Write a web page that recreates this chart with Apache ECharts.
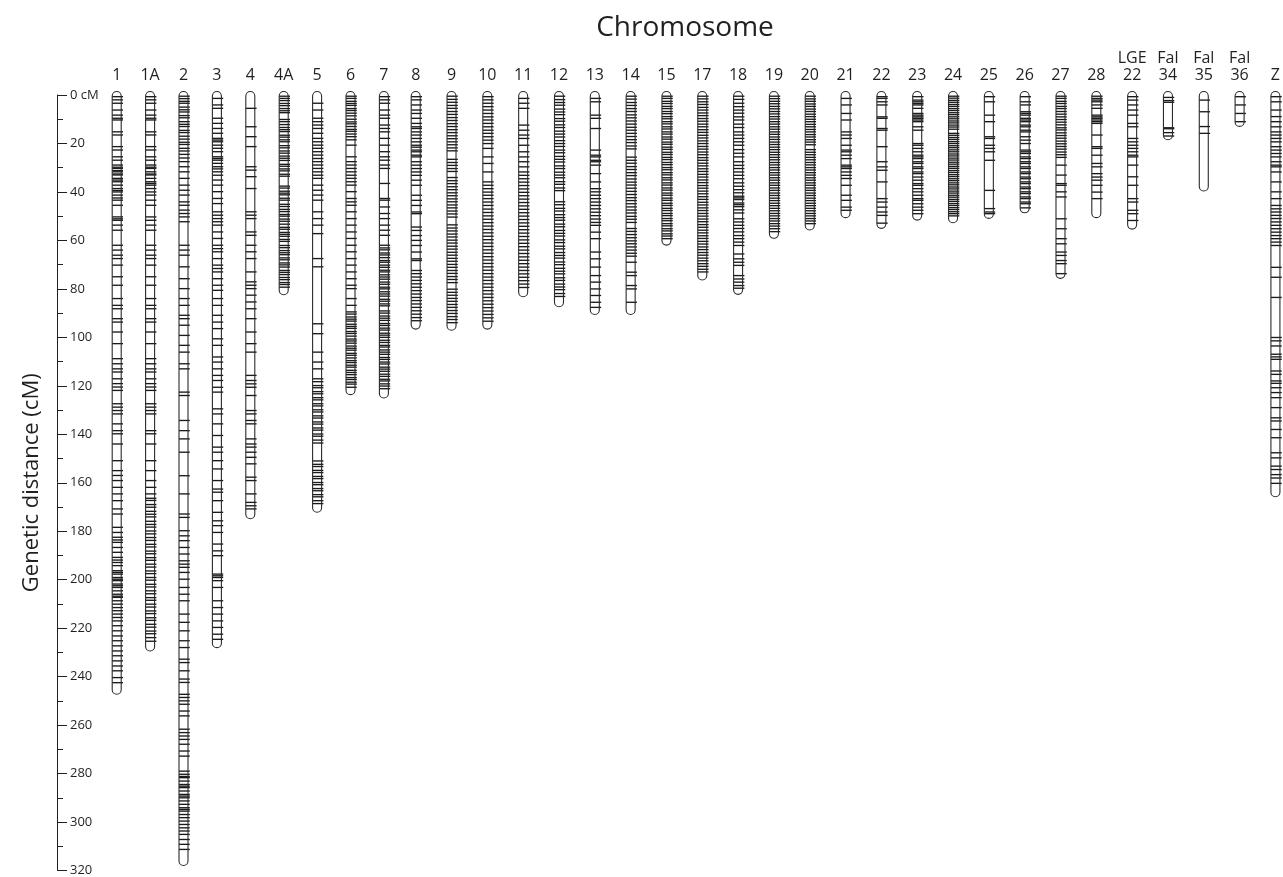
<!DOCTYPE html>
<html><head><meta charset="utf-8">
<script src="https://cdn.jsdelivr.net/npm/echarts@6/dist/echarts.min.js"></script>
<style>html,body{margin:0;padding:0;background:#fff}#chart{width:1283px;height:877px}</style>
</head><body><div id="chart"></div>
<script>
// ---- data ----
const chromosomes = ['1','1A','2','3','4','4A','5','6','7','8','9','10','11','12','13','14','15','17','18','19','20','21','22','23','24','25','26','27','28','LGE\n22','Fal\n34','Fal\n35','Fal\n36','Z'];
const lengths = [245.8,228,316.5,226.6,173.4,81,170.7,122.2,123.6,95,95.5,95,81.7,85.8,89,89,60.4,74.8,80.7,57.6,54.2,49.1,53.5,50.1,51.2,49.4,47.1,74.1,49.1,53.8,17,38.1,11.5,164.1];
const yTickLabels = [0,20,40,60,80,100,120,140,160,180,200,220,240,260,280,300,320];

const m1 = [0.7,2,3.4,6.2,8.3,9.6,10.3,15.2,16.5,21.3,22.7,25.5,26.9,28.9,29.8,30.3,31.2,31.7,32.6,33,34.4,35.1,35.8,37.2,38.6,39.4,40,41.3,42.5,43.4,45.5,50.3,51.1,51.7,53.7,55.8,62,64,66.1,67.5,70.2,75,78.5,84,86.8,88.2,92.3,93.7,97.8,102.6,108.8,110.9,113,114.3,117.1,119.1,120.5,121.9,127.4,128.8,130.2,131.6,135.7,138.5,139.8,144,150.9,155,157,159.1,161.9,164.6,167.4,170.8,172.9,178.4,180.5,182.5,183.6,184.6,186.7,188.7,190.8,191.9,192.9,194.2,196.3,197,197.7,199.1,199.8,200.4,201.8,202.5,203.2,204.6,206,206.8,207.3,208.7,210.1,211.5,212.8,214.2,215.6,217,219,221.1,223.2,225.2,227.3,229.4,231.4,233.5,235.6,237.6,240.4,242.5];
const m1A = [0.7,2,3.4,6.2,8.3,9.6,10.3,15.2,16.5,21.3,22.7,25.5,26.9,28.9,29.8,30.3,31.7,32.6,33,34.4,35.8,36.5,37.2,38.6,40,41.3,43.4,45.5,50.3,51.7,53.7,55.8,62,64,66.1,67.5,70.2,75,78.5,84,86.8,88.2,92.3,93.7,97.8,102.6,108.8,110.9,113,114.3,117.1,119.1,120.5,121.9,127.4,128.8,130.2,131.6,138.5,139.8,144,150.9,155,159.1,161.9,164.6,166.4,167.3,169,170.1,171.8,173,174.1,175.9,177.2,178.3,179.9,181.1,182.6,183.8,185.4,186.5,188.2,189.3,190.9,192,193.6,194.8,196.4,197.5,199.1,200.2,201.9,203,204.6,205.8,207.4,208.5,210.1,211.3,212.9,214,215.7,216.8,218.4,219.6,221.2,222.3,223.9,225.4];
const m2 = [0.5,1.5,2.6,3.4,5,6.1,7,8.5,9.4,11,12.1,13,14.6,15.5,17,18.2,19.5,20.4,22,23.1,24.5,26,27.5,29.6,31.7,34.4,37.2,39.3,41.3,44.1,45.5,47.5,48.9,50.3,52.3,62,64,66.1,70.9,75.8,79.9,84,86.8,90.9,92.3,95,99.2,103.3,106.1,110.9,113,122.6,124,134.3,138.5,141.9,147.4,157.1,164.6,172.9,174.3,179.8,181.9,183.9,186.7,189.4,192.2,193.6,194.9,197,199.8,203.2,206,208.7,214.2,217.6,221.1,225.2,228,232.8,234.2,237.6,241,242.4,247.3,248.6,250,251.4,254.2,256.2,261.7,263.1,264.5,265.9,267.9,270.7,272.8,279,280.3,281.2,281.7,283.1,284.5,285.2,285.8,287.2,288.6,289.3,290,291.3,292.7,294.1,294.8,295.5,296.9,298.2,299.6,301,302.4,303.7,305.1,307.2,309.2,311.3];
const m3 = [1.4,4.1,5.5,9.6,11.7,13.8,15.8,17.9,18.6,19.3,20.7,22,23.4,25.5,26.2,26.9,28.2,29.6,30.5,31.7,33.1,35.1,37.2,39.9,42.7,44.8,48.2,49.6,51,52.3,53.7,56.5,59.2,62,63.4,64.7,67.5,70.2,71.6,73,75.8,78.5,80.6,84,86.8,90.9,93.7,96.4,100.6,103.3,108.1,110.2,113,115.7,117.8,120.6,122.6,129.5,131.6,135.7,140.5,145.3,147.4,150.9,154.3,159.1,162.6,163.9,167.4,172.2,175.7,177.7,180.5,185.3,188.1,190.1,197.7,198.4,199.1,200.4,203.2,208.7,211.5,214.2,217,219.7,222.5,224.6];
const m4 = [5.5,13.1,17.2,21.3,29.6,31,33.7,38.6,48.2,49.6,51,56.5,57.9,62,64.7,67.5,73,77.1,78.5,79.9,82.6,85.4,88.2,92.3,97.8,102.6,106.1,115.7,117.8,119.2,120.6,124,130.2,131.6,134.3,135.7,141.9,144,145.3,147.4,149.5,152.2,157.7,159.1,164.6,168.1,169.5,170.8];
const m4A = [0.5,1.4,2.3,3.5,4.4,5.6,6.5,7.3,10.1,11,12.2,13.4,14.3,15.1,16.6,17.4,18.5,19.3,20.9,21.8,23.1,24,25.2,26.1,27,28.6,29.4,30.5,31.3,32.7,33.5,37.6,38.4,39.7,40.5,41.2,42.6,43.4,45.1,46,47.2,48.1,49.3,50,51.2,52.1,53.3,54.6,55.4,56.7,57.5,58.3,59.6,60.4,62.1,63,64.2,65.1,65.9,67.2,68,69.3,70.1,71,72.4,73.2,74.1,75.3,76.2,77.4,78.2,79.3];
const m5 = [3.4,6.2,9.6,11,12.4,13.8,15.8,17.9,19.3,20.7,22,23.4,24.8,26.2,27.5,28.9,30.3,31.7,33.1,34.4,37.2,39.3,41.3,43.4,48.2,51,53.7,57.2,67.5,70.9,94.4,98.5,106.1,110.2,113,117.1,118.3,119.9,120.8,122.4,123.3,124.9,125.8,127.4,128.3,129.9,130.8,132.4,133.3,134.9,135.8,137.4,138.3,139.9,140.8,142.4,143.6,151,152.4,153.3,154.9,155.8,157.4,158.3,159.9,160.8,162.4,163.3,164.9,165.8,167.4,168.6];
const m6 = [0.5,1.4,2.6,3.5,4.3,5.6,6.4,7.5,8.6,10,11.1,11.9,13,14.2,15,16.1,17.2,18.5,20.7,25.5,27.5,28.9,30.3,31.7,33.1,34.4,35.8,37.2,39.9,42.7,44.1,45.5,48.2,51,53.7,56.5,59.2,62,64.7,67.5,70.2,73,75.8,78.5,79.9,84,86.8,89.5,90.4,91.6,92.5,93.3,94.6,95.5,96.3,97.6,98.4,99.5,100.7,101.5,102.4,103.6,104.5,105.3,106.6,107.4,108.5,109.6,110.4,111.5,112.3,113.6,114.5,115.4,116.6,117.4,118.5,119.3,120.6];
const m7 = [0.7,2,3.4,6.2,8.3,9.6,12.4,13.8,15.2,17.9,20.7,23.4,25.5,26.9,28.9,30.3,36.5,42.7,43.4,46.2,48.9,51,53.7,55.8,57.9,62,63.1,63.9,65.2,66,67.1,68.3,69,70.2,71.1,72.3,73,74.2,75.1,76,77.2,78.1,79.3,80,81.2,82.1,83,84.3,85.1,86.2,87,89.1,90,91.2,92.1,93,94.3,95.1,96.2,97,98.3,99.1,100,101.2,102.1,103.3,104,105.2,106.1,107,108.3,109.1,110.2,111,112.3,113.1,114,115.2,116.1,117.3,118,119.2,120.1,121.2];
const m8 = [0.7,2,4.1,6.2,7.6,9.6,11.7,13.1,13.8,15.2,16.5,17.9,19.3,20.7,21.5,22.7,23.4,24.8,25.5,27.5,28.9,30.3,31.7,33.1,35.1,37.2,41.3,43.4,45.5,48.2,48.9,54.4,55.8,57.9,59.9,62,64.7,67.5,68.2,72.3,73.6,75,76.4,77.8,79.2,80.6,82,83.4,84.7,86.1,87.5,88.9,90.3,91.7,93];
const m9 = [0.5,1.8,3,4.3,5.5,6.8,8,9.3,10.5,11.8,13,14.3,15.5,16.8,18,19.3,20.5,21.8,23,26.5,27.8,29,30.3,31.5,34,35.3,36.5,37.8,39,40.3,41.5,42.8,44,45.3,46.5,47.8,49,50.3,53.5,54.8,56,57.3,58.5,59.8,61,62.3,63.5,64.8,66,67.3,68.5,69.8,71,72.3,73.5,74.8,76,77.3,80,81.3,82.5,83.8,85,86.3,87.5,88.8,90,91.3,92.5,93.8];
const m10 = [0.7,2,3.4,4.8,6.2,7.6,9,10.3,11.7,13.1,14.5,15.8,17.2,18.6,20,22,25.5,28.2,31.7,35.8,37.2,38.6,40,41.3,42.7,44.1,45.5,47,48.4,49.8,51.2,52.6,54,55.4,56.8,58.2,59.6,61,62.4,63.8,65.2,66.6,68,69.4,70.8,72.2,73.6,75,76.4,77.8,79.2,80.6,82,83.4,84.8,86.2,87.6,89,90.4,91.8,93.2];
const m11 = [1.4,3.4,5.5,12.4,14.5,16.5,17.9,20.7,23.4,25.5,27.5,29.6,31.7,33.1,34.5,35.9,37.3,38.7,40.1,41.5,42.9,44.3,45.7,47.1,48.5,49.9,51.3,52.7,54.1,55.5,56.9,58.3,59.7,61.1,62.5,63.9,65.3,66.7,68.1,69.5,70.9,72.3,73.7,75.1,76.5,77.9,79.3];
const m12 = [0.5,1.9,3.1,4.2,5.8,7,8.1,9.7,10.8,12.3,13.4,14.9,16.1,17.3,18.8,20,21.2,22.7,23.8,25.3,26.5,27.6,29.2,30.3,31.8,33,34.1,35.7,36.8,38.3,39.4,44,45.2,46.7,47.8,49.3,50.5,51.6,53.2,54.3,55.8,57,58.1,59.7,60.8,62.3,63.4,64.9,66.1,67.2,68.8,69.9,71.4,72.6,73.7,75.3,76.4,77.9,79.1,80.2,81.8,83];
const m13 = [1.4,2.8,8.3,9.6,13.8,22.7,24.8,25.5,26.9,27.5,28.9,32.4,35.8,38.6,39.9,41.3,42.7,44.1,45.5,46.9,48.3,49.7,51.1,52.5,53.7,56.5,59.2,64.7,67.5,70.9,74.4,77.1,79.9,82.6,85.4,87.5];
const m14 = [0.5,1.7,3.1,4.3,5.6,6.8,8.2,9.4,10.7,12,13.3,14.5,15.8,17.1,18.4,19.6,21,22.2,25.6,26.9,28.1,29.5,30.7,32,33.2,34.6,35.9,37.1,38.4,39.7,41,42.3,43.5,44.8,46.1,47.4,48.6,50,51.2,52.5,55,56.2,57.5,58.8,60.1,61.3,62.6,63.9,65.2,66.4,68.9,73,74.4,78.5,79.9,85.4];
const m15 = [0.5,1.4,2.6,3.5,4.7,5.6,6.8,7.7,8.9,9.8,11,11.9,13.1,14,15.2,16.1,17.3,18.2,19.4,20.3,21.5,22.4,23.6,24.5,25.7,26.6,27.8,28.7,29.9,30.8,32,32.9,34.1,35,36.2,37.1,38.3,39.2,40.4,41.3,42.5,43.4,44.6,45.5,46.7,47.6,48.8,49.7,50.9,51.8,53,53.9,55.1,56,57.2,58.1,59.2];
const m17 = [0.5,1.6,2.8,3.9,5.1,6.2,7.4,8.5,9.7,10.8,12,13.1,14.3,15.4,16.6,17.7,18.9,20,21.2,22.3,23.5,24.6,25.8,26.9,28.1,29.2,30.4,31.5,32.7,33.8,35,36.1,37.3,38.4,39.6,40.7,41.9,43,44.2,45.3,46.5,47.6,48.8,49.9,51.1,52.2,53.4,54.5,55.7,56.8,58,59.1,60.3,61.4,62.6,63.7,64.9,66,67.2,68.3,69.5,70.6,71.8,72.9];
const m18 = [0.5,1.8,3.4,4.8,6.2,7.5,9,10.3,12,13.4,15.2,16.5,17.9,19.3,20.7,22.5,24,25.5,27.5,29,30.3,31.7,33.1,34.5,36.2,37.6,39,40.3,41.7,42.4,43.1,44.5,45.2,46,47.3,48.6,51,52.3,53.7,55,56.4,57.9,59.2,60.6,62,65.5,67.5,68.9,70.2,74.4,75.8,77.1,78.5,79.6];
const m19 = [0.5,1.5,2.6,3.6,4.7,5.7,6.8,7.8,8.9,9.9,11,12,13.1,14.1,15.2,16.2,17.3,18.3,19.4,20.4,21.5,22.5,23.6,24.6,25.7,26.7,27.8,28.8,29.9,30.9,32,33,34.1,35.1,36.2,37.2,38.3,39.3,40.4,41.4,42.5,43.5,44.6,45.6,46.7,47.7,48.8,49.8,50.9,51.9,53,54,55.1,56.3];
const m20 = [0.5,1.6,2.6,3.7,4.7,5.8,6.8,7.9,8.9,10,11,12.1,13.1,14.2,15.2,16.3,17.3,18.4,19.4,20.5,22.5,23.6,24.6,25.7,26.7,27.8,28.8,29.9,30.9,32,33,34.1,35.1,36.2,37.2,38.3,39.3,40.4,41.4,42.5,43.5,44.6,45.6,46.7,47.7,48.8,49.8,50.9,51.9,53];
const m21 = [1.4,4.1,7.6,10.3,15.2,16.5,17.9,20.7,22.7,23.4,24.8,26.2,28.9,29.6,30.3,31.7,33.1,34.4,37.2,41.3,43.4,46.2,47.5];
const m22 = [0.7,1.4,2.8,4.1,9,9.6,13.8,14.5,21.3,27.5,29.6,31,35.8,42.7,44.1,46.2,48.2,49.6,52.8];
const m23 = [0.7,2.1,2.8,3.5,4.1,5.5,7.6,8.3,9,9.6,10.3,11,13.1,14.5,20,20.7,22,23.4,24.8,25.5,26.2,27.5,28.2,29.6,30.3,31.7,32.4,33.8,35.1,36.5,37.2,38.6,39.9,41.3,42.7,43.4,44.8,46.2,47.5,48.9];
const m24 = [0.5,1.3,2.2,3,3.9,4.7,5.6,6.4,7.3,8.1,9,9.8,10.7,11.5,12.4,13.2,14.1,15.8,16.6,17.5,18.3,19.2,20,20.9,21.7,22.6,23.4,24.3,25.1,26,26.8,27.7,28.5,29.4,30.2,31.1,31.9,32.8,33.6,34.5,35.3,36.2,37,37.9,38.7,39.6,40.4,41.3,42.1,43,43.8,44.7,45.5,46.4,47.2,48.1,48.9,49.8];
const m25 = [0.7,2.8,8.3,11,17.2,17.9,20.7,22,23.4,26.9,39.3,46.8,48.2,48.9];
const m26 = [0.7,2.8,4.1,6.9,7.6,8.3,9.6,10.3,11,12.4,13.1,14.5,15.2,17.2,18.6,20,22.7,23.4,24.1,25.5,26.2,27.5,28.2,29.6,30.3,31.7,32.4,33.8,34.5,35.8,36.5,37.9,38.6,39.9,40.6,42,42.7,44.1,44.8,46.5];
const m27 = [0.5,1.4,2.6,3.5,4.7,5.6,6.8,7.9,9,10.1,11.2,12.3,13.5,14.4,15.6,16.7,17.8,19,20.1,21.2,22.3,23.5,24.6,25.7,28.9,33,36.5,37.2,39.9,42,51,55.1,59.2,61.3,64.7,66.1,68.2,69.5,73.6];
const m28 = [0.5,1.4,2.1,2.8,4.1,5.5,8.3,9,9.6,10.3,11,11.7,16.5,21.3,22,24.8,28.2,29.6,32.4,33.8,35.1,37.2,40,42.7];
const mLGE22 = [0.7,2.1,4.1,6.2,8.3,11.7,13.1,17.9,19.3,20.7,22,23.4,24.8,25.5,28.9,33.7,37.2,42.7,44.1,47.5,48.9,51.7];
const mFal34 = [1,2.3,3,13.5,13.9,15.5,16.9];
const mFal35 = [2.1,6.9,13,15.8];
const mFal36 = [0.7,4.1,7.6,11];
const mZ = [0.7,2.8,6.2,8.9,11,13.1,15.2,16.5,17.9,19.3,21.3,22.7,24.1,25.5,27.5,28.9,29.6,31.7,35.8,39.9,42.7,45.5,46.9,48.2,49.6,50.9,52.3,53.7,55.1,56.5,57.9,59.2,60.6,62,71,75.1,83.4,99.9,101.3,103.4,106.8,107.9,108.9,113.7,115.1,117.8,118.8,120.6,122.6,124.7,128.8,133,134.3,137.8,141.2,147.4,149.5,152.9,154.3,156.4,157.8,160];

const markers = [m1,m1A,m2,m3,m4,m4A,m5,m6,m7,m8,m9,m10,m11,m12,m13,m14,m15,m17,m18,m19,m20,m21,m22,m23,m24,m25,m26,m27,m28,mLGE22,mFal34,mFal35,mFal36,mZ];

// ---- chart ----
const SPLIT = 9;
const TXT = '#231f20';
const FONT = '"Open Sans", "Noto Sans", sans-serif';
const chart = echarts.init(document.getElementById('chart'), null, {renderer: 'canvas'});

function makeRender(offset) {
  return function (params, api) {
    const idx = offset + params.dataIndex;
    const cat = api.value(0);
    const len = api.value(1);
    const p0 = api.coord([cat, 0]);
    const p1 = api.coord([cat, len]);
    const w = 9, cap = 3.5;
    const cx = p0[0];
    const children = [];
    const body = {x: cx - w / 2, y: p0[1] - cap, width: w, height: p1[1] - p0[1] + 2 * cap, r: w / 2};
    children.push({type: 'rect', shape: body, style: {fill: '#fff', stroke: null}});
    const ms = markers[idx];
    for (let i = 0; i < ms.length; i++) {
      const y = api.coord([cat, ms[i]])[1];
      children.push({type: 'line', shape: {x1: cx - w / 2, y1: y, x2: cx + w / 2 + 1.8, y2: y},
        style: {stroke: '#1a1a1a', lineWidth: 1.35}});
    }
    children.push({type: 'rect', shape: body, style: {fill: null, stroke: '#2b2b2b', lineWidth: 1.1}});
    return {type: 'group', children: children};
  };
}

const catsA = chromosomes.slice(0, SPLIT), catsB = chromosomes.slice(SPLIT);
const dataA = catsA.map((c, i) => [c, lengths[i]]);
const dataB = catsB.map((c, i) => [c, lengths[SPLIT + i]]);

const xCommon = {
  type: 'category', position: 'top',
  axisLine: {show: false}, axisTick: {show: false}, splitLine: {show: false},
  axisLabel: {interval: 0, fontSize: 16, lineHeight: 17, color: TXT, fontFamily: FONT, margin: 11}
};
const yCommon = {
  type: 'value', min: 0, max: 320, interval: 20, inverse: true, splitLine: {show: false}
};

chart.setOption({
  animation: false,
  backgroundColor: '#fff',
  title: {
    text: 'Chromosome', left: 685, top: 14, textAlign: 'center', padding: 0,
    textStyle: {fontSize: 28, fontWeight: 'normal', color: TXT, fontFamily: FONT}
  },
  grid: [
    {left: 100, top: 95, width: 300.6, height: 776.7},
    {left: 415.7, top: 95, width: 862.6, height: 776.7}
  ],
  xAxis: [
    Object.assign({}, xCommon, {gridIndex: 0, data: catsA, boundaryGap: true}),
    Object.assign({}, xCommon, {gridIndex: 1, data: catsB, boundaryGap: false})
  ],
  yAxis: [
    Object.assign({}, yCommon, {
      gridIndex: 0, offset: 43,
      axisLine: {show: true, lineStyle: {color: TXT, width: 1}},
      axisTick: {show: true, inside: true, length: 10, lineStyle: {color: TXT}},
      minorTick: {show: true, splitNumber: 2, length: 6, lineStyle: {color: TXT}},
      axisLabel: {inside: true, margin: 13, fontSize: 13, color: TXT, fontFamily: FONT,
        formatter: v => (yTickLabels.indexOf(v) === 0 ? '0 cM' : String(v))},
      name: 'Genetic distance (cM)', nameLocation: 'middle', nameGap: 14, nameRotate: 90,
      nameTextStyle: {fontSize: 22, color: TXT, fontFamily: FONT}
    }),
    Object.assign({}, yCommon, {gridIndex: 1, show: false})
  ],
  series: [
    {type: 'custom', xAxisIndex: 0, yAxisIndex: 0, renderItem: makeRender(0), data: dataA, clip: false},
    {type: 'custom', xAxisIndex: 1, yAxisIndex: 1, renderItem: makeRender(SPLIT), data: dataB, clip: false}
  ]
});
</script>
</body></html>
